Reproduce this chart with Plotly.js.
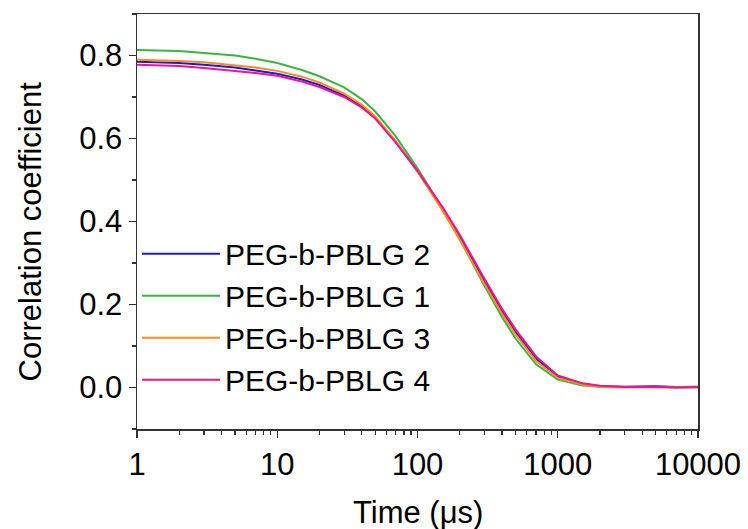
<!DOCTYPE html>
<html>
<head>
<meta charset="utf-8">
<script src="https://cdn.plot.ly/plotly-3.0.1.min.js"></script>
<style>html,body{margin:0;padding:0;background:#fff;}#chart{width:748px;height:529px;}</style>
</head>
<body>
<div id="chart"></div>
<script>
// Lag time in microseconds
const timeUs = [1, 1.5, 2, 3, 4, 5, 7, 10, 15, 20, 30, 40, 50, 70, 100, 150, 200, 300, 400, 500, 700, 1000, 1500, 2000, 3000, 5000, 7000, 10000];

const seriesNames = ["PEG-b-PBLG 2", "PEG-b-PBLG 1", "PEG-b-PBLG 3", "PEG-b-PBLG 4"];
const seriesColors = ["#1a1ad6", "#3cb443", "#ff8c1a", "#f01490"];

const pbLG2 = [0.785, 0.784, 0.782, 0.778, 0.774, 0.771, 0.764, 0.756, 0.742, 0.729, 0.703, 0.677, 0.650, 0.592, 0.522, 0.433, 0.363, 0.256, 0.184, 0.134, 0.070, 0.027, 0.009, 0.003, 0.002, 0.003, 0.001, 0.002];
const pbLG1 = [0.813, 0.811, 0.811, 0.806, 0.803, 0.800, 0.792, 0.782, 0.765, 0.750, 0.723, 0.695, 0.665, 0.605, 0.528, 0.432, 0.358, 0.245, 0.170, 0.118, 0.056, 0.019, 0.005, 0.002, 0.001, 0.000, 0.001, 0.000];
const pbLG3 = [0.790, 0.789, 0.787, 0.784, 0.780, 0.777, 0.771, 0.763, 0.749, 0.735, 0.708, 0.682, 0.653, 0.594, 0.520, 0.428, 0.356, 0.250, 0.178, 0.128, 0.064, 0.023, 0.007, 0.002, 0.000, 0.001, 0.000, 0.001];
const pbLG4 = [0.778, 0.777, 0.775, 0.770, 0.766, 0.763, 0.758, 0.751, 0.737, 0.724, 0.700, 0.675, 0.648, 0.590, 0.522, 0.436, 0.368, 0.262, 0.190, 0.140, 0.075, 0.029, 0.010, 0.004, 0.001, 0.002, 0.000, 0.001];

const seriesValues = [pbLG2, pbLG1, pbLG3, pbLG4];

const xTickVals = [1, 10, 100, 1000, 10000];
const xTickText = ["1", "10", "100", "1000", "10000"];
const xMinorTickVals = [2, 3, 4, 5, 6, 7, 8, 9, 20, 30, 40, 50, 60, 70, 80, 90, 200, 300, 400, 500, 600, 700, 800, 900, 2000, 3000, 4000, 5000, 6000, 7000, 8000, 9000];
const yTickVals = [0.0, 0.2, 0.4, 0.6, 0.8];
const yTickText = ["0.0", "0.2", "0.4", "0.6", "0.8"];

const xTitle = "Time (\u03bcs)";
const yTitle = "Correlation coefficient";

const traces = seriesNames.map((name, i) => ({
  x: timeUs,
  y: seriesValues[i],
  name: name,
  type: "scatter",
  mode: "lines",
  line: {color: seriesColors[i], width: 2}
}));

const fontFam = "Liberation Sans, Arial, sans-serif";
const fs = 31;

const layout = {
  width: 748,
  height: 529,
  margin: {l: 137, r: 50, t: 14, b: 100},
  paper_bgcolor: "#fff",
  plot_bgcolor: "#fff",
  font: {family: fontFam, size: fs, color: "#000"},
  showlegend: true,
  legend: {
    x: 0.0, y: 0.485, xanchor: "left", yanchor: "top",
    bgcolor: "rgba(0,0,0,0)",
    font: {family: fontFam, size: 30, color: "#000"},
    itemwidth: 78,
    tracegroupgap: 0
  },
  xaxis: {
    type: "log",
    range: [0, 4],
    tickvals: xTickVals,
    ticktext: xTickText,
    ticks: "outside",
    ticklen: 7,
    tickwidth: 1.2,
    tickcolor: "#333",
    showline: true,
    linecolor: "#333",
    linewidth: 1.5,
    mirror: true,
    showgrid: false,
    zeroline: false,
    tickfont: {family: fontFam, size: fs, color: "#000"},
    minor: {tickvals: xMinorTickVals, ticks: "outside", ticklen: 4, tickcolor: "#333", showgrid: false}
  },
  yaxis: {
    range: [-0.1, 0.9],
    tickvals: yTickVals,
    ticktext: yTickText,
    ticks: "outside",
    ticklen: 7,
    tickwidth: 1.2,
    tickcolor: "#333",
    showline: true,
    linecolor: "#333",
    linewidth: 1.5,
    mirror: true,
    showgrid: false,
    zeroline: false,
    tickfont: {family: fontFam, size: fs, color: "#000"},
    minor: {ticks: "outside", ticklen: 4, dtick: 0.1, tick0: 0, tickcolor: "#333", showgrid: false}
  },
  annotations: [
    {text: xTitle, xref: "paper", yref: "paper", x: 0.5, y: -0.2, xanchor: "center", yanchor: "middle",
     showarrow: false, font: {family: fontFam, size: fs, color: "#000"}},
    {text: yTitle, xref: "paper", yref: "paper", x: -0.19, y: 0.477, xanchor: "center", yanchor: "middle",
     textangle: -90, showarrow: false, font: {family: fontFam, size: fs, color: "#000"}}
  ]
};

Plotly.newPlot("chart", traces, layout, {displayModeBar: false, staticPlot: true});
</script>
</body>
</html>
